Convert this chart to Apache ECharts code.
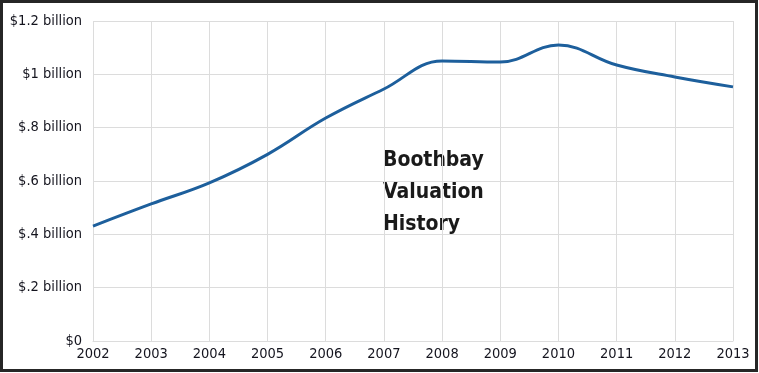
<!DOCTYPE html>
<html><head><meta charset="utf-8">
<script src="https://cdn.jsdelivr.net/npm/echarts@6/dist/echarts.min.js"></script>
<style>html,body{margin:0;padding:0;background:#fff}#c{width:759px;height:373px}</style>
</head><body><div id="c"></div>
<script>
const years = ['2002','2003','2004','2005','2006','2007','2008','2009','2010','2011','2012','2013'];
const valuation = [0.431, 0.514, 0.593, 0.70, 0.836, 0.945, 1.05, 1.046, 1.11, 1.035, 0.99, 0.953];
const yTickLabels = ['$0','$.2 billion','$.4 billion','$.6 billion','$.8 billion','$1 billion','$1.2 billion'];
const titleLines = ['Boothbay','Valuation','History'];

const chart = echarts.init(document.getElementById('c'));
chart.setOption({
  animation:false,
  backgroundColor:'#fff',
  grid:{left:93,right:26,top:21,bottom:32},
  xAxis:{type:'category',data:years,boundaryGap:false,
    axisLine:{show:true,lineStyle:{color:'#dcdcdc'}},axisTick:{show:false},
    splitLine:{show:true,lineStyle:{color:'#dcdcdc',width:1}},
    axisLabel:{color:'#14141e',fontFamily:'DejaVu Sans Condensed',fontSize:14.5,margin:6}},
  yAxis:{type:'value',min:0,max:1.2,interval:0.2,
    axisLine:{show:false},axisTick:{show:false},
    splitLine:{lineStyle:{color:'#dcdcdc',width:1}},
    axisLabel:{color:'#14141e',fontFamily:'DejaVu Sans Condensed',fontSize:14.5,margin:11,
      formatter:(v)=>yTickLabels[Math.round(v/0.2)]}},
  series:[{type:'line',data:valuation,smooth:0.4,symbol:'none',
    lineStyle:{color:'#1d5f9c',width:3}}],
  graphic:[
    {type:'rect',shape:{x:1.5,y:1.5,width:755,height:369},style:{fill:'none',stroke:'#262626',lineWidth:3},silent:true},
    {type:'text',left:383,top:145,style:{text:titleLines.join('\n'),font:'bold 21px "DejaVu Sans Condensed"',lineHeight:32,fill:'#1a1a1a'}}
  ]
});
</script></body></html>
